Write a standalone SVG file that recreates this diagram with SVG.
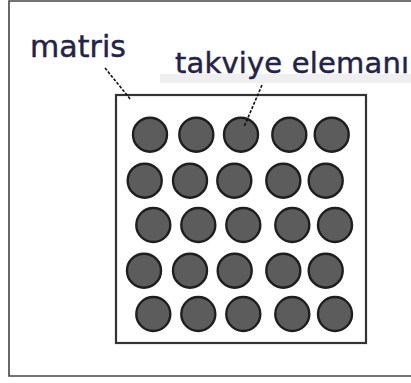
<svg xmlns="http://www.w3.org/2000/svg" width="411" height="383" viewBox="0 0 411 383">
  <style>
    .label { font-family: "DejaVu Sans", Verdana, sans-serif; fill: #22224a; stroke: #22224a; stroke-width: 0.45; }
    .fiber { fill: #5c5c5c; stroke: #1e1e1e; stroke-width: 2.4; }
    .leader { fill: none; stroke: #111; stroke-width: 1.6; stroke-dasharray: 3 1.6; }
    .frame { fill: none; stroke: #444; stroke-width: 1.6; }
  </style>
  <defs>
    <circle id="fib" r="17" class="fiber"/>
  </defs>
  <rect width="411" height="383" fill="#ffffff"/>
  <!-- outer frame: top, left and bottom edges -->
  <path class="frame" d="M411,1 H9 V376 H411"/>
  <!-- faint shade under the right label -->
  <rect x="160" y="74" width="251" height="9" fill="#efefef"/>

  <g id="matris-label">
    <text class="label" x="30" y="57" font-size="30" textLength="96" lengthAdjust="spacing">matris</text>
  </g>
  <g id="takviye-label">
    <text class="label" x="175" y="73" font-size="29" textLength="234" lengthAdjust="spacing">takviye elemanı</text>
  </g>

  <g id="matrix">
    <rect x="116" y="95" width="250" height="248" fill="#ffffff" stroke="#333" stroke-width="2.2"/>
  </g>

  <g id="fibers">
    <use href="#fib" x="150" y="134.7"/>
    <use href="#fib" x="196.3" y="134.7"/>
    <use href="#fib" x="241" y="134.7"/>
    <use href="#fib" x="289.3" y="134.7"/>
    <use href="#fib" x="331.7" y="134.7"/>

    <use href="#fib" x="144.7" y="180.7"/>
    <use href="#fib" x="190" y="180.7"/>
    <use href="#fib" x="234.3" y="180.7"/>
    <use href="#fib" x="283.3" y="180.7"/>
    <use href="#fib" x="325.7" y="180.7"/>

    <use href="#fib" x="153.3" y="225"/>
    <use href="#fib" x="198.3" y="225"/>
    <use href="#fib" x="243.3" y="225"/>
    <use href="#fib" x="292.3" y="225"/>
    <use href="#fib" x="335" y="225"/>

    <use href="#fib" x="144" y="270.7"/>
    <use href="#fib" x="190" y="270.7"/>
    <use href="#fib" x="234.7" y="270.7"/>
    <use href="#fib" x="283.3" y="270.7"/>
    <use href="#fib" x="325.7" y="270.7"/>

    <use href="#fib" x="153.3" y="314"/>
    <use href="#fib" x="198.3" y="314"/>
    <use href="#fib" x="243.3" y="314"/>
    <use href="#fib" x="292.3" y="314"/>
    <use href="#fib" x="335" y="314"/>
  </g>

  <g id="connectors">
    <line class="leader" x1="105" y1="68" x2="131" y2="100"/>
    <line class="leader" x1="262" y1="85" x2="244" y2="127"/>
  </g>
</svg>
